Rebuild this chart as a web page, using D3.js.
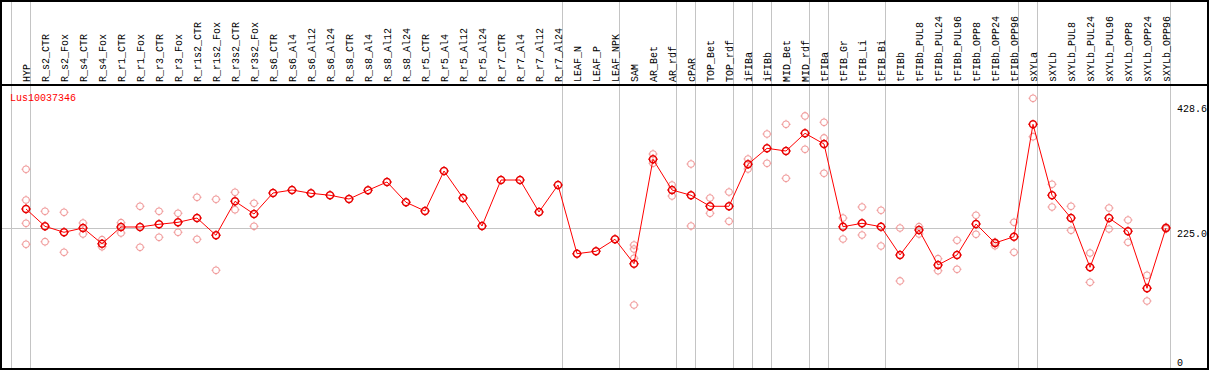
<!DOCTYPE html>
<html>
<head>
<meta charset="utf-8">
<script src="https://cdn.jsdelivr.net/npm/d3@7"></script>
<style>
  html, body { margin: 0; padding: 0; background: #fff; }
  svg { display: block; }
  text { font-family: "Liberation Mono", "DejaVu Sans Mono", monospace; font-size: 10px; }
</style>
</head>
<body>
<svg id="chart" width="1209" height="370"></svg>
<script>
const categories = ["HYP","R_s2_CTR","R_s2_Fox","R_s4_CTR","R_s4_Fox","R_r1_CTR","R_r1_Fox","R_r3_CTR","R_r3_Fox",
  "R_r1s2_CTR","R_r1s2_Fox","R_r3s2_CTR","R_r3s2_Fox","R_s6_CTR","R_s6_Al4","R_s6_Al12","R_s6_Al24","R_s8_CTR",
  "R_s8_Al4","R_s8_Al12","R_s8_Al24","R_r5_CTR","R_r5_Al4","R_r5_Al12","R_r5_Al24","R_r7_CTR","R_r7_Al4","R_r7_Al12",
  "R_r7_Al24","LEAF_N","LEAF_P","LEAF_NPK","SAM","AR_Bet","AR_rdf","cPAR","TOP_Bet","TOP_rdf","iFIBa","iFIBb",
  "MID_Bet","MID_rdf","tFIBa","tFIB_Gr","tFIB_Li","tFIB_Bi","tFIBb","tFIBb_PUL8","tFIBb_PUL24","tFIBb_PUL96",
  "tFIBb_OPP8","tFIBb_OPP24","tFIBb_OPP96","sXYLa","sXYLb","sXYLb_PUL8","sXYLb_PUL24","sXYLb_PUL96","sXYLb_OPP8",
  "sXYLb_OPP24","sXYLb_OPP96"];

const meanValues = [255.4,227.2,217.5,224.5,198.9,226.1,226.1,230.5,233.7,240.7,212.6,267.9,247.2,281.4,286.3,280.9,
  277.7,271.6,285.8,299.3,266.3,252.1,317.2,273.3,227.7,302.5,302.5,250.5,294.4,182.7,186.6,206.1,166.4,336.2,286.3,
  277.7,259.8,259.8,328.1,354.1,349.7,378.5,361.1,226.6,232.1,226.6,180.6,221.2,164.3,180.6,231.0,200.1,210.3,393.1,
  277.7,240.7,160.5,240.7,219.1,126.4,224.5];

const replicateValues = [
  [320.0,270.0,232.1,198.0],[251.6,202.2],[250.0,184.9],[232.6,214.7],[205.4,194.1],[233.1,216.3],[259.8,193.1],
  [251.6,209.3],[248.4,217.5],[274.4,206.1],[271.2,155.7],[282.5,254.2],[264.6,227.2],
  [],[],[],[],[],[],[],[],[],[],[],[],[],[],[],[],[],[],[],
  [196.8,190.3,175.2,99.2],[344.8,329.7],[294.4,276.5],[328.6,227.7],[273.3,248.4],[283.0,235.4],[336.7,320.4],
  [377.4,329.7],[393.1,305.3],[406.7,352.5],[396.4,370.9,313.5],[240.7,206.6],[258.6,213.1],[253.3,195.2],
  [224.5,138.3],[226.6,214.7],[174.5,155.0],[204.5,157.3],[245.1,214.2],[201.7,195.7],[233.7,184.9],
  [435.4,373.0],[295.6,258.6],[259.8,220.7],[183.8,136.1],[257.0,222.8],[237.5,201.2],[147.5,105.7],[226.1,222.8]
];

// group separators are drawn after these categories ("" = before the first one)
const groupEnds = ["", "HYP","R_r7_Al24","LEAF_NPK","AR_rdf","cPAR","TOP_rdf","iFIBa","iFIBb","MID_rdf","tFIBa",
  "tFIB_Bi","tFIBb_OPP96","sXYLa","sXYLb_OPP96"];

const yTicks = [0, 225.0, 428.6];
const referenceLine = 225.0;
const seriesLabel = "Lus10037346";

const W = 1209, H = 370;
const svg = d3.select("#chart");

const x = d3.scalePoint().domain(categories).range([26, 1166]);
const y = d3.scaleLinear().domain([0, 428.6]).range([366, 102.5]);
const step = x.step();

// vertical group separators
svg.append("g").selectAll("line").data(groupEnds).join("line")
  .attr("x1", d => d === "" ? x(categories[0]) - step + 4.5 : x(d) + 4.5)
  .attr("x2", d => d === "" ? x(categories[0]) - step + 4.5 : x(d) + 4.5)
  .attr("y1", 0).attr("y2", H)
  .attr("stroke", "#c4c4c4").attr("stroke-width", 1);

// reference horizontal line
const yRef = Math.round(y(referenceLine)) + 0.5;
svg.append("line")
  .attr("x1", 0).attr("x2", x(categories[categories.length - 1]) + 4.5)
  .attr("y1", yRef).attr("y2", yRef)
  .attr("stroke", "#c4c4c4").attr("stroke-width", 1);

// category labels (rotated)
svg.append("g").selectAll("text").data(categories).join("text")
  .attr("transform", d => `translate(${x(d) + 4},82) rotate(-90)`)
  .attr("text-anchor", "start")
  .attr("fill", "#000")
  .text(d => d);

// y axis labels on the right
const yAxis = d3.axisRight(y).tickValues(yTicks).tickSize(0).tickPadding(0)
  .tickFormat(d => d === 0 ? "0" : d3.format(".1f")(d));
const ax = svg.append("g").attr("transform", "translate(1177,0)").call(yAxis);
ax.select(".domain").remove();
ax.selectAll("text")
  .attr("font-family", "Liberation Mono, DejaVu Sans Mono, monospace")
  .attr("font-size", 10)
  .attr("fill", "#000")
  .attr("x", 0)
  .attr("dy", "0.9em");
ax.selectAll(".tick").filter(d => d === 0).select("text").attr("dy", "-0.1em");

// marker path: circle with small ticks
function marker(r) {
  const p = d3.path();
  p.moveTo(r, 0); p.arc(0, 0, r, 0, 2 * Math.PI);
  p.moveTo(0, -r); p.lineTo(0, -r - 1.2);
  p.moveTo(0, r); p.lineTo(0, r + 1.2);
  p.moveTo(-r, 0); p.lineTo(-r - 1.2, 0);
  p.moveTo(r, 0); p.lineTo(r + 1.2, 0);
  return p.toString();
}

// replicates
const reps = [];
categories.forEach((c, i) => replicateValues[i].forEach(v => reps.push({c, v})));
svg.append("g").selectAll("path").data(reps).join("path")
  .attr("d", marker(3.3))
  .attr("transform", d => `translate(${x(d.c)},${y(d.v)})`)
  .attr("fill", "none").attr("stroke", "#f09a9a").attr("stroke-width", 1.1);

// mean line
const line = d3.line().x((d, i) => x(categories[i])).y(d => y(d));
svg.append("path").datum(meanValues)
  .attr("d", line).attr("fill", "none").attr("stroke", "#ff0000").attr("stroke-width", 1);

svg.append("g").selectAll("path").data(meanValues).join("path")
  .attr("d", marker(3.5))
  .attr("transform", (d, i) => `translate(${x(categories[i])},${y(d)})`)
  .attr("fill", "none").attr("stroke", "#e80000").attr("stroke-width", 1.5);

// series label
svg.append("text").attr("x", 10).attr("y", 101).attr("fill", "#ff0000").text(seriesLabel);

// frame
svg.append("line").attr("x1", 0).attr("x2", W).attr("y1", 85).attr("y2", 85)
  .attr("stroke", "#000").attr("stroke-width", 2);
svg.append("rect").attr("x", 1).attr("y", 1).attr("width", 1207).attr("height", 368)
  .attr("fill", "none").attr("stroke", "#000").attr("stroke-width", 2);
</script>
</body>
</html>
